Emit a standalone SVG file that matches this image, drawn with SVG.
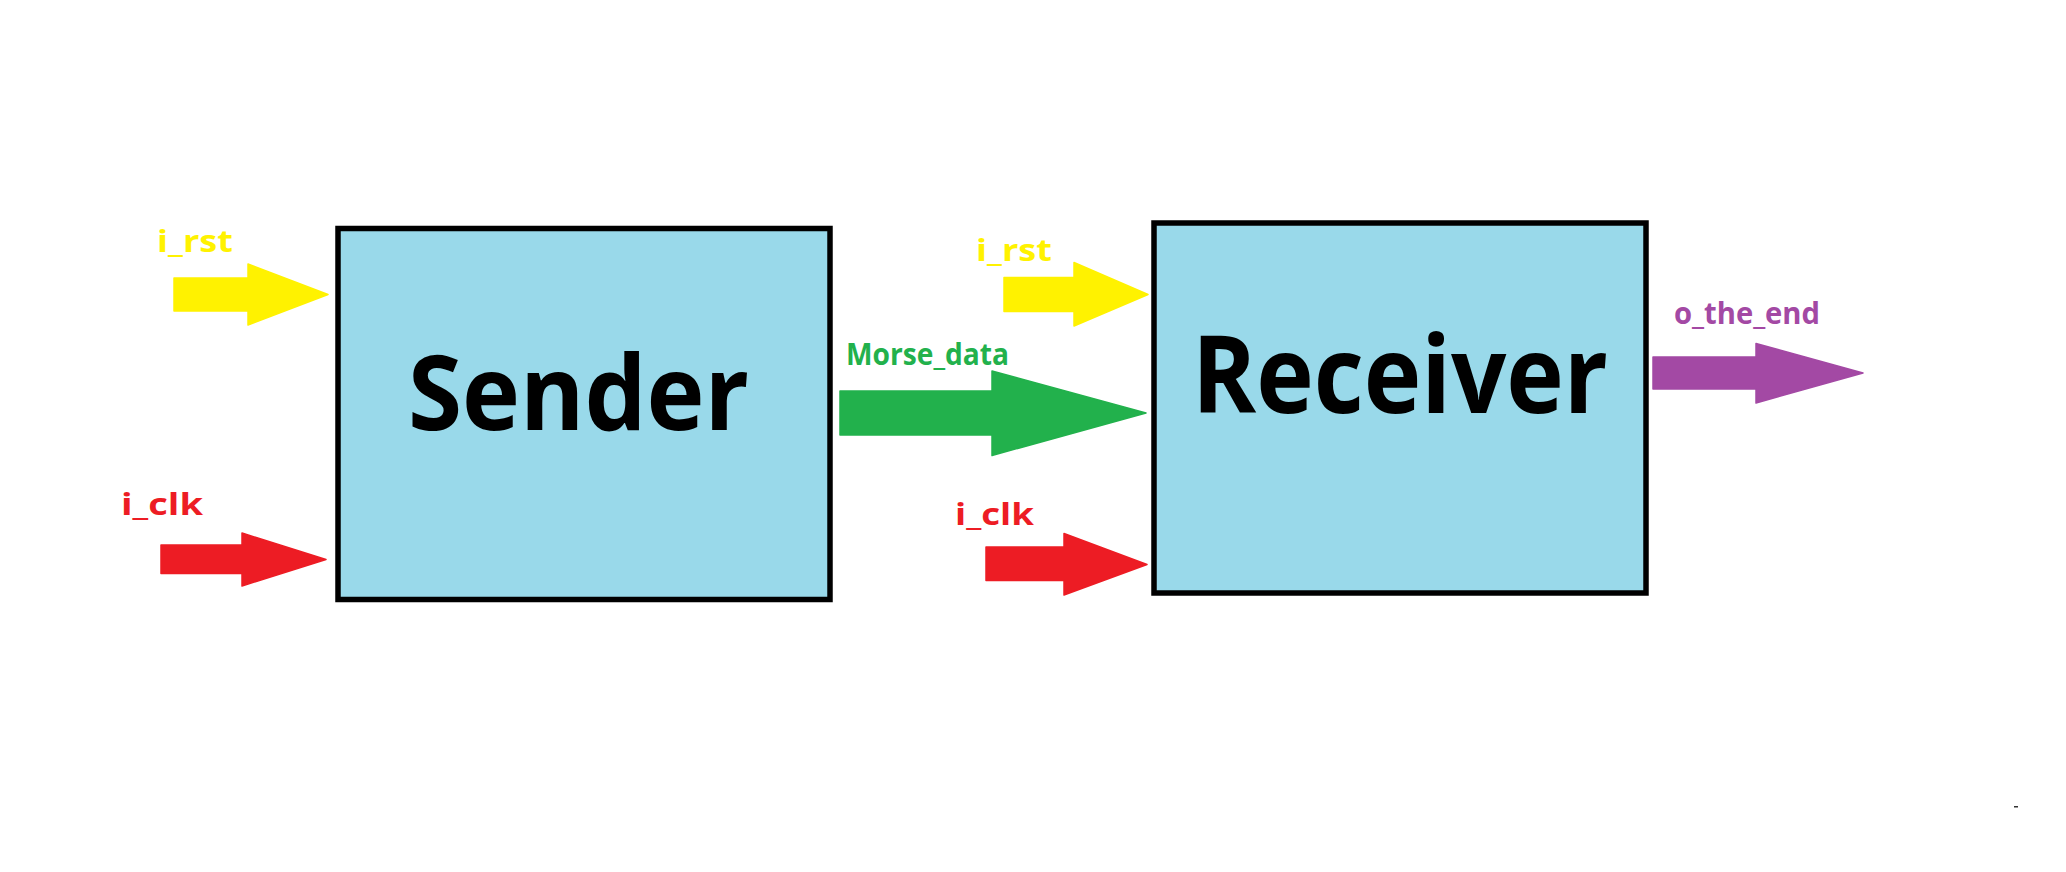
<svg xmlns="http://www.w3.org/2000/svg" width="2066" height="872" viewBox="0 0 2066 872">
  <style>
    .box { fill: #99D9EA; stroke: #000000; stroke-width: 5.5; }
    .title { font-family: "Open Sans", "Noto Sans", "Liberation Sans", sans-serif; font-weight: bold; fill: #000000; }
    .lbl { font-family: "Open Sans", "Noto Sans", "Liberation Sans", sans-serif; font-weight: bold; font-size: 31px; }
    .arrow { stroke-linejoin: round; stroke-width: 1.5; }
    .yellow { fill: #FFF200; stroke: #FFF200; }
    .red { fill: #ED1C24; stroke: #ED1C24; }
    .green { fill: #22B14C; stroke: #22B14C; }
    .purple { fill: #A349A4; stroke: #A349A4; }
    .tyellow { fill: #FFF200; }
    .tred { fill: #ED1C24; }
    .tgreen { fill: #22B14C; }
    .tpurple { fill: #A349A4; }
  </style>
  <rect x="0" y="0" width="2066" height="872" fill="#FFFFFF"/>

  <g id="sender">
    <rect class="box" x="338" y="228.5" width="492" height="371"/>
    <text class="title" x="408" y="430" font-size="104" textLength="341" lengthAdjust="spacingAndGlyphs">Sender</text>
  </g>

  <g id="receiver">
    <rect class="box" x="1154" y="223" width="492" height="370"/>
    <text class="title" x="1192" y="413" font-size="108" textLength="416" lengthAdjust="spacingAndGlyphs">Receiver</text>
  </g>

  <g id="connectors">
    <g id="sender_i_rst">
      <polygon class="arrow yellow" points="174,278 248,278 248,264 328,294.5 248,325 248,311 174,311"/>
      <text class="lbl tyellow" x="157" y="252" textLength="76" lengthAdjust="spacingAndGlyphs">i_rst</text>
    </g>
    <g id="sender_i_clk">
      <polygon class="arrow red" points="161,545 242,545 242,533 326,559.5 242,586 242,573.5 161,573.5"/>
      <text class="lbl tred" x="121" y="515" textLength="82" lengthAdjust="spacingAndGlyphs">i_clk</text>
    </g>
    <g id="morse_data">
      <polygon class="arrow green" points="840,391 992,391 992,371 1146,413 992,455.5 992,435 840,435"/>
      <text class="lbl tgreen" x="846" y="365" textLength="163" lengthAdjust="spacingAndGlyphs">Morse_data</text>
    </g>
    <g id="receiver_i_rst">
      <polygon class="arrow yellow" points="1004,277.5 1074,277.5 1074,262.5 1148,294.5 1074,326 1074,311.5 1004,311.5"/>
      <text class="lbl tyellow" x="976" y="260.5" textLength="76" lengthAdjust="spacingAndGlyphs">i_rst</text>
    </g>
    <g id="receiver_i_clk">
      <polygon class="arrow red" points="986,547 1064,547 1064,533.5 1147,564.5 1064,595 1064,580.5 986,580.5"/>
      <text class="lbl tred" x="955" y="525" textLength="79" lengthAdjust="spacingAndGlyphs">i_clk</text>
    </g>
    <g id="o_the_end">
      <polygon class="arrow purple" points="1653,357 1756,357 1756,343.5 1863,373 1756,403 1756,389 1653,389"/>
      <text class="lbl tpurple" x="1674" y="324" textLength="146" lengthAdjust="spacingAndGlyphs">o_the_end</text>
    </g>
  </g>

  <rect x="2014" y="806" width="4" height="1.5" fill="#333333"/>
</svg>
